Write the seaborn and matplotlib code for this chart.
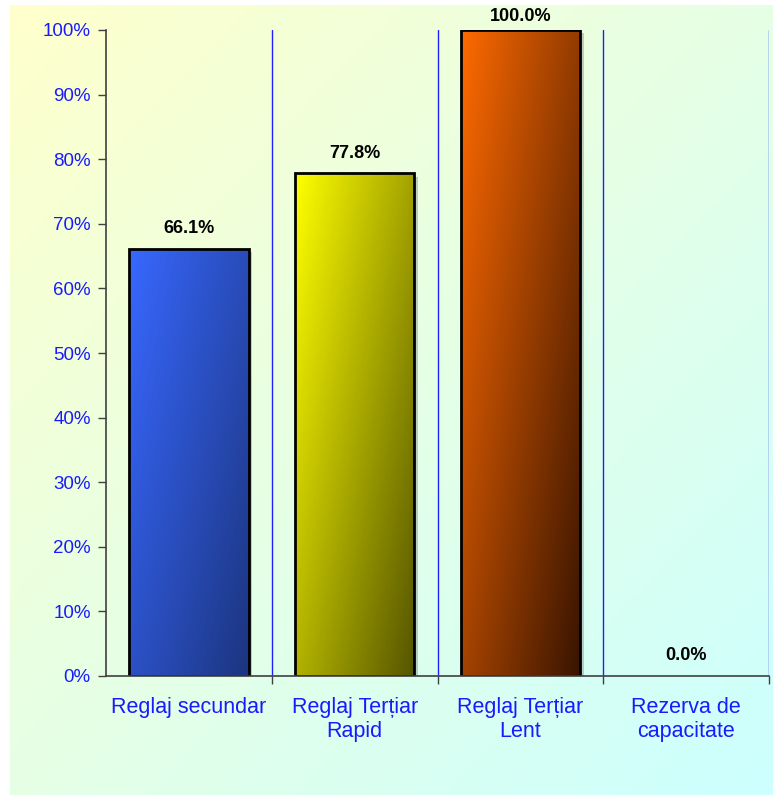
import numpy as np
import pandas as pd
import matplotlib
matplotlib.use("Agg")
import matplotlib.pyplot as plt
import matplotlib.patheffects as pe
from matplotlib.colors import to_rgb
from matplotlib.patches import Rectangle
from matplotlib.ticker import FixedLocator, PercentFormatter
import seaborn as sns

# data
categories = ["Reglaj secundar", "Reglaj Terțiar\nRapid", "Reglaj Terțiar\nLent", "Rezerva de\ncapacitate"]
values = [0.661, 0.778, 1.0, 0.0]
value_labels = ["66.1%", "77.8%", "100.0%", "0.0%"]
light_colors = ["#3868ff", "#ffff00", "#ff6a00"]
dark_colors = ["#1c3580", "#555500", "#381400"]

sns.set_theme(style="white")
plt.rcParams["font.family"] = ["Liberation Sans", "DejaVu Sans"]

BLUE = "#1a1aff"

fig = plt.figure(figsize=(7.73, 7.95), dpi=100)
fig.patch.set_facecolor("white")

# background gradient panel
bg = fig.add_axes([10 / 773, 0, 1 - 10 / 773, 790 / 795], zorder=-10)
gx, gy = np.meshgrid(np.linspace(0, 1, 200), np.linspace(0, 1, 200))
t = (gx + gy) / 2
c0 = np.array([255, 255, 204]) / 255
c1 = np.array([204, 255, 255]) / 255
bg.imshow(c0 * (1 - t[..., None]) + c1 * t[..., None], aspect="auto", extent=[0, 1, 1, 0])
bg.set_axis_off()

ax = fig.add_axes([106 / 773, 1 - 676 / 795, (769 - 106) / 773, (676 - 30) / 795])
ax.patch.set_alpha(0)

df = pd.DataFrame({"cat": categories, "val": values})
sns.barplot(data=df, x="cat", y="val", hue="cat", legend=False, width=0.72,
            palette=light_colors + ["#ffffff"], ax=ax, zorder=3)

# gradient fill for each bar (light top-left -> dark bottom-right)
for i, bar in enumerate(ax.patches[:3]):
    bar.set_edgecolor("none")
    bar.set_path_effects([pe.SimplePatchShadow(offset=(2.5, -2.5), shadow_rgbFace="#707070", alpha=0.35), pe.Normal()])
    x0, y0 = bar.get_x(), bar.get_y()
    w, h = bar.get_width(), bar.get_height()
    if h <= 0:
        continue
    lx, ly = np.meshgrid(np.linspace(0, 1, 100), np.linspace(0, 1, 100))
    tt = 0.55 * lx + 0.45 * ly
    lc, dc = np.array(to_rgb(light_colors[i])), np.array(to_rgb(dark_colors[i]))
    img = lc * (1 - tt[..., None]) + dc * tt[..., None]
    im = ax.imshow(img, extent=[x0, x0 + w, y0, y0 + h], aspect="auto", zorder=4)
    im.set_clip_path(bar)
    ax.add_patch(Rectangle((x0, y0), w, h, fill=False, edgecolor="black", linewidth=2, zorder=5))

# value labels
for i, v in enumerate(values):
    ax.text(i, min(v + 0.018, 1.008), value_labels[i], ha="center", va="bottom",
            fontsize=13, fontweight="bold", color="black", zorder=6, clip_on=False)

ax.set_xlim(-0.5, 3.5)
ax.set_ylim(0, 1)
ax.set_yticks(np.arange(0, 1.01, 0.1))
ax.yaxis.set_major_formatter(PercentFormatter(1.0, decimals=0))
ax.tick_params(axis="y", left=True, length=6, width=1, color="#404040", labelsize=13.5, labelcolor=BLUE, pad=5)
ax.tick_params(axis="x", which="major", bottom=False, labelsize=15.5, labelcolor=BLUE, pad=9)
ax.xaxis.set_minor_locator(FixedLocator([0.5, 1.5, 2.5, 3.5]))
ax.tick_params(axis="x", which="minor", bottom=True, length=6, width=1, color="#404040")
ax.set_xlabel("")
ax.set_ylabel("")

# blue dividers between categories
for xb in [0.5, 1.5, 2.5, 3.5]:
    ax.axvline(xb, color="#2020ff", linewidth=1, zorder=1)

for s in ["top", "right"]:
    ax.spines[s].set_visible(False)
ax.spines["left"].set_color("#404040")
ax.spines["bottom"].set_color("#404040")
ax.spines["left"].set_linewidth(1.2)
ax.spines["bottom"].set_linewidth(1.2)
ax.spines["bottom"].set_zorder(7)

fig.savefig("out.png", dpi=100)
